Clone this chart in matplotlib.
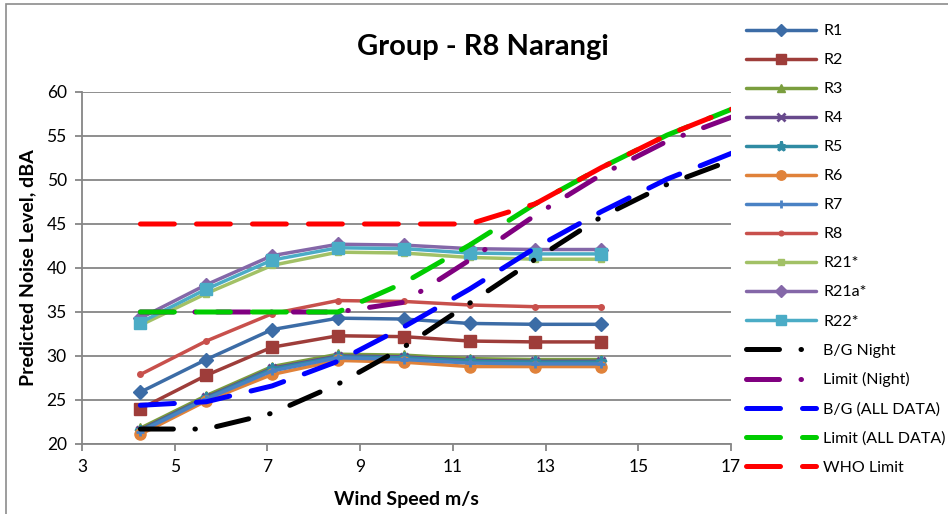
import matplotlib
matplotlib.use("Agg")
import matplotlib.pyplot as plt
from matplotlib.patches import Rectangle

plt.rcParams['font.family'] = ['Lato', 'DejaVu Sans']

# ---- data ----
wind = [4.26, 5.68, 7.10, 8.52, 9.94, 11.36, 12.78, 14.20]
wind_ext = [4.26, 5.68, 7.10, 8.52, 9.94, 11.36, 12.78, 14.20, 15.62, 17.04]

R1 = [25.9, 29.6, 33.0, 34.3, 34.2, 33.7, 33.6, 33.6]
R2 = [24.0, 27.8, 31.0, 32.3, 32.2, 31.7, 31.6, 31.6]
R3 = [21.8, 25.5, 28.8, 30.2, 30.1, 29.7, 29.6, 29.6]
R4 = [21.6, 25.3, 28.6, 30.0, 29.9, 29.5, 29.4, 29.4]
R5 = [21.5, 25.2, 28.5, 29.9, 29.8, 29.4, 29.3, 29.3]
R6 = [21.1, 24.9, 27.9, 29.5, 29.3, 28.8, 28.8, 28.8]
R7 = [21.4, 25.1, 28.3, 29.8, 29.6, 29.2, 29.1, 29.1]
R8 = [27.9, 31.7, 34.8, 36.3, 36.2, 35.8, 35.6, 35.6]
R21 = [33.5, 37.1, 40.3, 41.8, 41.7, 41.2, 41.0, 41.0]
R21a = [34.3, 38.1, 41.4, 42.7, 42.6, 42.2, 42.1, 42.1]
R22 = [33.8, 37.6, 40.9, 42.3, 42.2, 41.7, 41.6, 41.6]

bg_night = [21.7, 21.7, 23.5, 26.8, 31.0, 36.0, 41.0, 45.8, 49.5, 52.3]
limit_night = [35.0, 35.0, 35.0, 35.0, 36.1, 40.9, 46.0, 50.6, 54.4, 57.2]
bg_all = [24.4, 24.8, 26.6, 29.4, 33.3, 37.6, 42.3, 46.4, 50.1, 53.1]
limit_all = [35.0, 35.0, 35.0, 35.0, 38.3, 42.6, 47.3, 51.4, 55.1, 58.1]
who_limit = [45.0, 45.0, 45.0, 45.0, 45.0, 45.0, 47.3, 51.4, 55.1, 58.1]

x_ticks = [3, 5, 7, 9, 11, 13, 15, 17]
y_ticks = [20, 25, 30, 35, 40, 45, 50, 55, 60]

W, H = 948, 514
fig = plt.figure(figsize=(W / 100, H / 100), dpi=100)

# chart border
fig.patches.append(Rectangle((6 / W, -0.1), 1.2, 1 - 4 / H + 0.1, transform=fig.transFigure,
                             fill=False, edgecolor='#8c8c8c', linewidth=1.2, zorder=0))

ax = fig.add_axes([82 / W, 1 - 444 / H, (731 - 82) / W, (444 - 92) / H])

grey = '#868686'
series = [
    ('R1', R1, '#3C6CA6', 'D', 7.5, 2.5),
    ('R2', R2, '#9E3D3A', 's', 8.0, 2.5),
    ('R3', R3, '#7A9E3E', '^', 6.5, 2.5),
    ('R4', R4, '#67498C', 'x', 6.0, 2.5),
    ('R5', R5, '#2F8BA3', '*', 8.0, 2.5),
    ('R6', R6, '#E0823A', 'o', 8.0, 2.5),
    ('R7', R7, '#4A82C4', '+', 6.0, 2.5),
    ('R8', R8, '#C8504C', 'o', 4.0, 2.5),
    ('R21*', R21, '#A2C166', 's', 4.5, 2.5),
    ('R21a*', R21a, '#8467A8', 'D', 7.5, 2.5),
    ('R22*', R22, '#4BACC6', 's', 8.0, 2.5),
]
for name, vals, col, mk, ms, lw in series:
    ax.plot(wind, vals, color=col, lw=lw, marker=mk, ms=ms, mfc=col, mec=col,
            mew=2 if mk in ('x', '+', '*') else 1, label=name, solid_capstyle='round',
            solid_joinstyle='round', zorder=3)

dashdot = (6.6, 4.3, 0.1, 4.3)
dash = (6.8, 4.4)
limits = [
    ('B/G Night', bg_night, '#000000', dashdot),
    ('Limit (Night)', limit_night, '#800080', dashdot),
    ('B/G (ALL DATA)', bg_all, '#0000FF', dash),
    ('Limit (ALL DATA)', limit_all, '#00CC00', dash),
    ('WHO Limit', who_limit, '#FF0000', dash),
]
for name, vals, col, ds in limits:
    ln, = ax.plot(wind_ext, vals, color=col, lw=3.6, label=name, zorder=4,
                  dash_capstyle='round', dash_joinstyle='round')
    ln.set_dashes(ds)

ax.set_xlim(3, 17)
ax.set_ylim(20, 60)
ax.set_xticks(x_ticks)
ax.set_yticks(y_ticks)
ax.yaxis.grid(True, color=grey, lw=1.3, zorder=0)
ax.set_axisbelow(True)
for s in ('top', 'right'):
    ax.spines[s].set_visible(False)
for s in ('left', 'bottom'):
    ax.spines[s].set_color(grey)
    ax.spines[s].set_linewidth(1.3)
ax.tick_params(axis='both', direction='out', length=5, width=1.3, color=grey,
               labelsize=12.5, labelcolor='black', pad=6)

ax.set_xlabel('Wind Speed m/s', fontsize=14, fontweight='bold', labelpad=11)
ax.set_ylabel('Predicted Noise Level, dBA', fontsize=14, fontweight='bold', labelpad=7)

fig.text(483 / W, 1 - 47 / H, 'Group - R8 Narangi', ha='center', va='center',
         fontsize=21, fontweight='bold')

handles, labels = ax.get_legend_handles_labels()
fig.legend(handles, labels, loc='upper left', bbox_to_anchor=(746 / W, 1 - 24 / H),
           frameon=False, fontsize=11.5, handlelength=4.4, handletextpad=0.44,
           labelspacing=0.93, borderpad=0, borderaxespad=0, markerscale=0.85)

fig.savefig('out.png', dpi=100)
